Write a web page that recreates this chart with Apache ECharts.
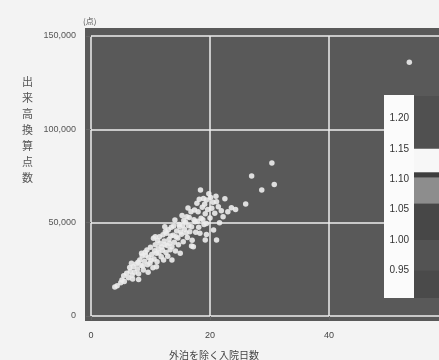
<!DOCTYPE html>
<html>
<head>
<meta charset="utf-8">
<script src="https://cdn.jsdelivr.net/npm/echarts@6/dist/echarts.min.js"></script>
<style>
  html, body { margin: 0; padding: 0; background: #f3f3f3; }
  #main { width: 439px; height: 360px; }
</style>
</head>
<body>
<div id="main"></div>
<script>
// 外泊を除く入院日数 (x) と 出来高換算点数 (y)
var xDays = [
  4.0, 4.4, 5.0, 5.2, 5.6, 6.0, 6.3, 6.6, 6.9, 7.1, 7.3, 7.6, 7.8, 7.9, 8.0, 8.2, 8.4, 8.6, 8.7, 8.8,
  9.0, 9.1, 9.2, 9.4, 9.5, 9.7, 9.9, 10.0, 10.1, 10.2, 10.4, 10.5, 10.6, 10.7, 10.8, 11.0, 11.1, 11.2, 11.3, 11.4,
  11.5, 11.6, 11.8, 11.9, 12.0, 12.1, 12.2, 12.3, 12.4, 12.5, 12.6, 12.7, 12.8, 12.9, 13.0, 13.1, 13.2, 13.3, 13.4, 13.5,
  13.6, 13.8, 13.9, 14.0, 14.1, 14.2, 14.3, 14.4, 14.6, 14.7, 14.8, 14.9, 15.0, 15.1, 15.2, 15.3, 15.4, 15.5, 15.6, 15.7,
  15.9, 16.0, 16.1, 16.2, 16.3, 16.4, 16.5, 16.6, 16.8, 16.9, 17.0, 17.2, 17.3, 17.4, 17.5, 17.6, 17.8, 17.9, 18.0, 18.1,
  18.2, 18.3, 18.4, 18.5, 18.7, 18.8, 18.9, 19.0, 19.1, 19.2, 19.4, 19.4, 19.4, 19.6, 19.8, 20.0, 20.1, 20.3, 20.5, 20.6,
  20.8, 21.0, 21.1, 21.1, 21.4, 21.6, 21.9, 22.2, 22.5, 23.0, 23.6, 24.3, 26.0, 27.0, 28.7, 30.4, 30.8, 53.5,
  5.5, 6.5, 6.8, 7.0, 8.0, 8.5, 9.6, 10.8, 11.0, 12.4, 13.6, 16.9, 19.2
];
var yScores = [
  15500, 16200, 17800, 19300, 18500, 22900, 20500, 24000, 21800, 26400, 23500, 27800, 25200, 28800, 22600, 30000, 27200, 32100, 26800, 24600,
  29300, 34200, 32500, 35400, 27500, 31200, 28200, 36800, 29800, 33000, 25800, 41600, 30500, 35000, 38200, 33600, 29000, 40500, 36000, 33800,
  42500, 38900, 31800, 37000, 35200, 43500, 30000, 40200, 38300, 45300, 34000, 44300, 37800, 32000, 46200, 41000, 39000, 35500, 42800, 47500,
  37100, 43200, 48200, 39500, 51400, 34800, 42500, 45600, 41800, 38200, 49000, 47800, 33600, 45000, 43800, 53800, 48600, 39800, 51200, 46500,
  50200, 44500, 53200, 42000, 57800, 48300, 52800, 45200, 55800, 47800, 40600, 37100, 51600, 56800, 50500, 44800, 60400, 50800, 55900, 47600,
  62500, 44300, 67500, 52300, 58200, 51500, 63000, 49000, 59800, 54800, 62100, 49600, 43600, 57000, 65500, 52500, 63500, 57700, 61000, 46100,
  55000, 64200, 61200, 40700, 58500, 50000, 56400, 53200, 62800, 55900, 58000, 57100, 60000, 75000, 67500, 81900, 70500, 135900,
  21500, 26000, 28200, 19800, 19500, 33600, 23500, 42500, 26400, 47800, 30000, 37500, 40700
];

var xTicks = { min: 0, max: 60, step: 20 };
var yTicks = { min: 0, max: 150000, step: 50000 };

// 右側の凡例 (係数): 0.95〜1.20 のみラベル表示
var legendTicks = { min: 0.90, max: 1.25, step: 0.05, first: 0.95, last: 1.20 };
var legendBandFrom = [1.150, 1.111, 1.103, 1.060, 1.000, 0.950, 0.905];
var legendBandTo   = [1.237, 1.150, 1.111, 1.103, 1.060, 1.000, 0.950];
var legendBandColor = ['#505050', '#f7f7f7', '#3e3e3e', '#8d8d8d', '#474747', '#535353', '#4a4a4a'];

var points = xDays.map(function (x, i) { return [x, yScores[i]]; });
var bands = legendBandFrom.map(function (f, i) {
  return [{ yAxis: legendBandTo[i], itemStyle: { color: legendBandColor[i] } }, { yAxis: f }];
});

var font = '"Liberation Sans", Arial, sans-serif';
var jpFont = '"Noto Sans CJK JP", sans-serif';

var chart = echarts.init(document.getElementById('main'));
chart.setOption({
  backgroundColor: '#f3f3f3',
  animation: false,
  title: [
    { text: '出\n来\n高\n換\n算\n点\n数', left: 17, top: 69,
      textStyle: { fontFamily: jpFont, fontSize: 11, lineHeight: 16, fontWeight: 'normal', color: '#555' } },
    { text: '(点)', left: 78, top: 12,
      textStyle: { fontFamily: jpFont, fontSize: 8, fontWeight: 'normal', color: '#555' } },
    { text: '外泊を除く入院日数', left: 209, top: 345, textAlign: 'center',
      textStyle: { fontFamily: jpFont, fontSize: 10, fontWeight: 'normal', color: '#444' } }
  ],
  grid: [
    { left: 85, top: 28, width: 400, height: 293, show: true, backgroundColor: '#595959', borderWidth: 0,
      outerBoundsMode: 'none' },
    { left: 91, top: 36, width: 357, height: 280, outerBoundsMode: 'none' },
    { left: 414, top: 88, width: 60, height: 213, outerBoundsMode: 'none' }
  ],
  xAxis: [
    { gridIndex: 0, type: 'value', show: false, min: 0, max: 1 },
    {
      gridIndex: 1, type: 'value', min: xTicks.min, max: xTicks.max, interval: xTicks.step, offset: 5,
      axisLine: { show: false },
      axisTick: { show: true, length: 4, lineStyle: { color: '#666' } },
      axisLabel: { color: '#444', fontSize: 9, margin: 10, fontFamily: font },
      splitLine: { show: true, lineStyle: { color: '#eeeeee', width: 1.5 } }
    },
    { gridIndex: 2, type: 'value', show: false, min: 0, max: 1 }
  ],
  yAxis: [
    { gridIndex: 0, type: 'value', show: false, min: 0, max: 1 },
    {
      gridIndex: 1, type: 'value', min: yTicks.min, max: yTicks.max, interval: yTicks.step, offset: 6,
      axisLine: { show: false },
      axisTick: { show: true, length: 5, lineStyle: { color: '#666' } },
      axisLabel: {
        color: '#555', fontSize: 9, margin: 9, fontFamily: font,
        formatter: function (v) { return v.toString().replace(/\B(?=(\d{3})+(?!\d))/g, ','); }
      },
      splitLine: { show: true, lineStyle: { color: '#eeeeee', width: 1.5 } }
    },
    {
      gridIndex: 2, type: 'value', min: legendTicks.min, max: legendTicks.max, interval: legendTicks.step,
      position: 'left', z: 10,
      axisLine: { show: false },
      axisTick: { show: false },
      axisLabel: { color: '#333', fontSize: 10, margin: 5, fontFamily: font,
        formatter: function (v) {
          return (v < legendTicks.first - 1e-6 || v > legendTicks.last + 1e-6) ? '' : v.toFixed(2);
        } },
      splitLine: { show: false }
    }
  ],
  graphic: [
    { type: 'rect', left: 384, top: 95, z: 1, shape: { width: 30, height: 203 }, style: { fill: '#fbfbfb' } }
  ],
  series: [
    {
      type: 'scatter', xAxisIndex: 1, yAxisIndex: 1,
      data: points, symbolSize: 5.5,
      itemStyle: { color: '#ececec', opacity: 0.9 },
      z: 3
    },
    {
      type: 'scatter', xAxisIndex: 2, yAxisIndex: 2, data: [], clip: false, silent: true,
      markArea: { silent: true, data: bands }
    }
  ]
});
</script>
</body>
</html>
